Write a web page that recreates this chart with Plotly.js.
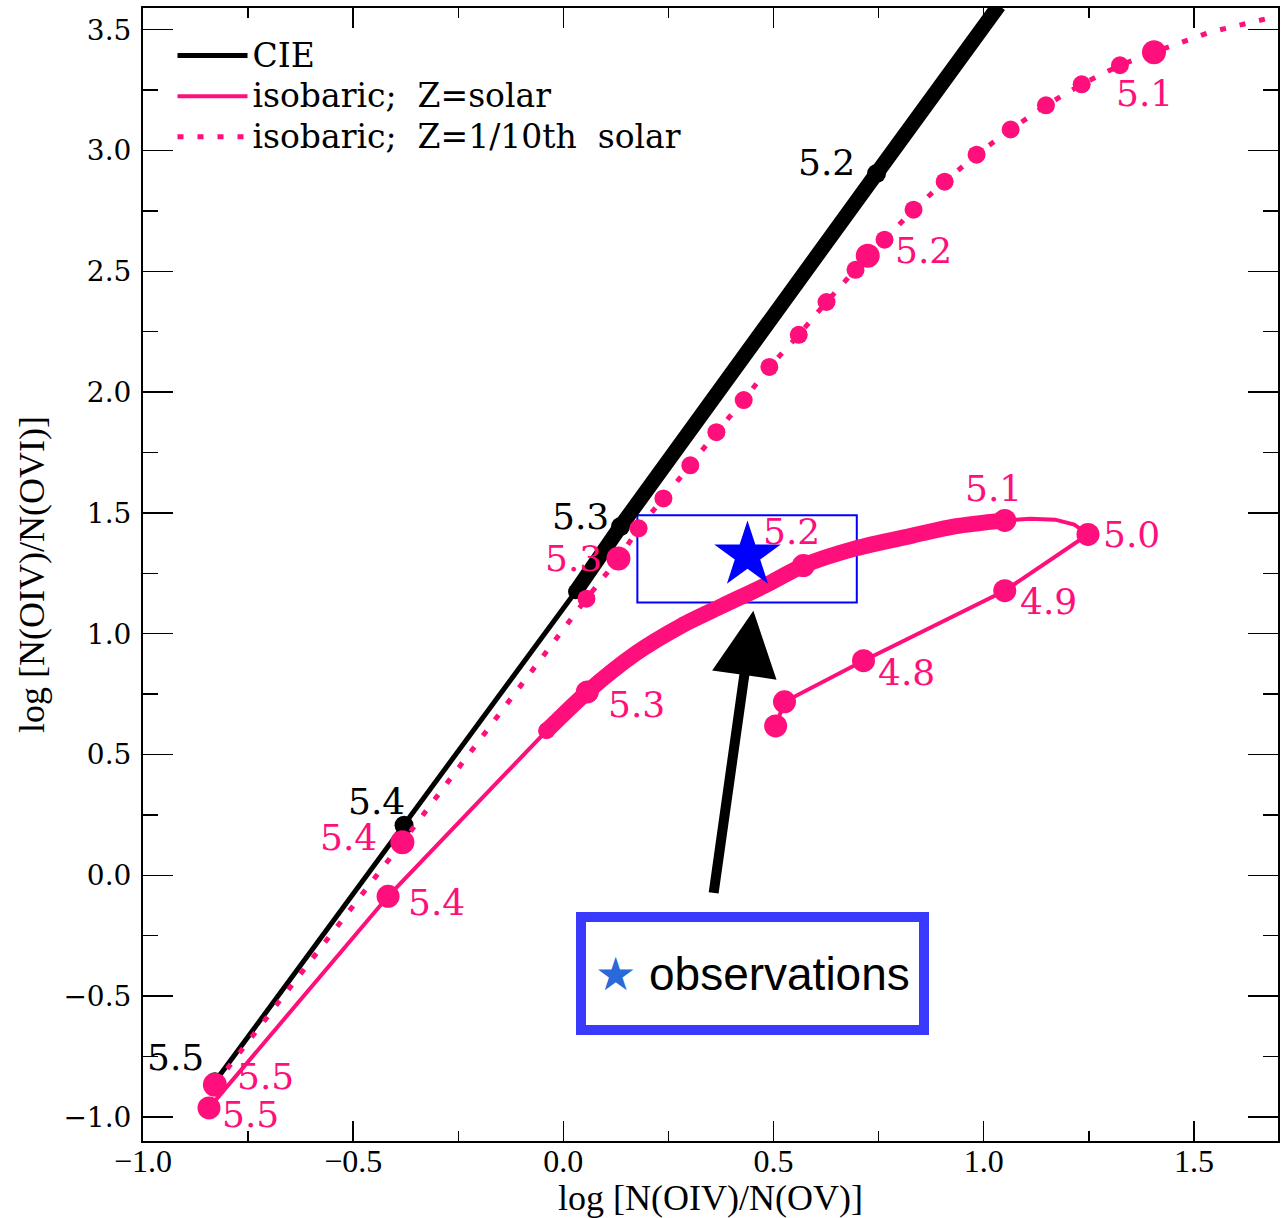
<!DOCTYPE html>
<html><head><meta charset="utf-8">
<script src="https://cdn.plot.ly/plotly-3.0.1.min.js"></script>
<style>html,body{margin:0;padding:0;background:#fff}#plot{width:1286px;height:1218px}</style>
</head><body><div id="plot"></div>
<script>
// ---------- data ----------
// CIE curve
const cieThinX = [-0.829, -0.379, 0.029];
const cieThinY = [-0.855, 0.207, 1.174];
const cieThickX = [0.029, 0.136, 0.745, 1.036];
const cieThickY = [1.174, 1.444, 2.905, 3.60];
const cieMarkX = [-0.829, -0.379, 0.136, 0.745];
const cieMarkY = [-0.855, 0.207, 1.444, 2.905];
const cieLabels = ['5.5', '5.4', '5.3', '5.2'];

// isobaric, Z = 1/10th solar (dotted)
const lowX = [-0.829, -0.383, 0.055, 0.131, 0.179, 0.238, 0.302, 0.364, 0.429, 0.490, 0.560, 0.626, 0.695, 0.724, 0.764, 0.833, 0.907, 0.983, 1.064, 1.148, 1.233, 1.324, 1.405, 1.538, 1.698];
const lowY = [-0.867, 0.137, 1.145, 1.311, 1.436, 1.560, 1.697, 1.834, 1.967, 2.104, 2.237, 2.373, 2.506, 2.564, 2.631, 2.755, 2.871, 2.983, 3.087, 3.187, 3.274, 3.353, 3.407, 3.490, 3.556];
const lowMarkX = [-0.829, -0.383, 0.055, 0.131, 0.179, 0.238, 0.302, 0.364, 0.429, 0.490, 0.560, 0.626, 0.695, 0.724, 0.764, 0.833, 0.907, 0.983, 1.064, 1.148, 1.233, 1.324, 1.405];
const lowMarkY = [-0.867, 0.137, 1.145, 1.311, 1.436, 1.560, 1.697, 1.834, 1.967, 2.104, 2.237, 2.373, 2.506, 2.564, 2.631, 2.755, 2.871, 2.983, 3.087, 3.187, 3.274, 3.353, 3.407];
const lowLabelX = [-0.829, -0.383, 0.131, 0.724, 1.405];
const lowLabelY = [-0.867, 0.137, 1.311, 2.564, 3.407];
const lowLabels = ['5.5', '5.4', '5.3', '5.2', '5.1'];

// isobaric, Z = solar (solid)
const solThinAX = [-0.843, -0.417, -0.040];
const solThinAY = [-0.963, -0.087, 0.598];
const solThickX = [-0.040, 0.057, 0.171, 0.281, 0.379, 0.479, 0.571, 0.695, 0.833, 0.931, 1.050];
const solThickY = [0.598, 0.759, 0.917, 1.033, 1.116, 1.199, 1.282, 1.353, 1.407, 1.444, 1.469];
const solThinBX = [1.050, 1.110, 1.170, 1.215, 1.248, 1.050, 0.714, 0.526, 0.505];
const solThinBY = [1.469, 1.476, 1.472, 1.452, 1.411, 1.178, 0.888, 0.718, 0.618];
const solMarkX = [-0.843, -0.417, 0.057, 0.571, 1.050, 1.248, 1.050, 0.714, 0.526, 0.505];
const solMarkY = [-0.963, -0.087, 0.759, 1.282, 1.469, 1.411, 1.178, 0.888, 0.718, 0.618];
const solLabels = ['5.5', '5.4', '5.3', '5.2', '5.1', '5.0', '4.9', '4.8', '', ''];

// observation
const obsBoxX = [0.176, 0.698];
const obsBoxY = [1.129, 1.490];
const obsStarX = [0.438];
const obsStarY = [1.324];
const arrowTip = [0.452, 1.095];
const arrowTail = [0.357, -0.079];

// ---------- styles ----------
const PINK = '#ff0f7b';
const cieShift = [[-39, 24], [-28, 24], [-40, 10], [-50, 11]];
const lowShift = [[51, 8], [-54, 5], [-45, 0], [56, 5], [-9, -41]];
const solShift = [[41, -7], [48, -6], [49, -13], [-12, 34], [-11, 32], [44, 0], [44, -11], [43, -12], [0, 0], [0, 0]];
const lowMarkSize = lowMarkX.map((_, i) => (i < 2 || i === 3 || i === 13 || i === 22) ? 24 : 18);
const noLine = {width: 0};
const big = (s) => '<span style="font-size:33px">' + s + '</span>';

const traces = [
  {x: cieThinX, y: cieThinY, mode: 'lines', name: big('CIE'), legendrank: 1,
   line: {color: 'black', width: 5}, hoverinfo: 'skip'},
  {x: cieThickX, y: cieThickY, mode: 'lines', showlegend: false,
   line: {color: 'black', width: 15}, hoverinfo: 'skip'},
  {x: cieMarkX.concat([cieThickX[0]]), y: cieMarkY.concat([cieThickY[0]]), mode: 'markers', showlegend: false,
   marker: {color: 'black', size: [19, 19, 19, 19, 15], opacity: 1, line: noLine}, hoverinfo: 'skip'},
  {x: lowX, y: lowY, mode: 'lines', name: big('isobaric;  Z=1/10th  solar'), legendrank: 3,
   line: {color: PINK, width: 5, dash: '6px,14px'}, hoverinfo: 'skip'},
  {x: lowMarkX, y: lowMarkY, mode: 'markers', showlegend: false,
   marker: {color: PINK, size: lowMarkSize, opacity: 1, line: noLine}, hoverinfo: 'skip'},
  {x: solThinAX, y: solThinAY, mode: 'lines', name: big('isobaric;  Z=solar'), legendrank: 2,
   line: {color: PINK, width: 4}, hoverinfo: 'skip'},
  {x: solThinBX, y: solThinBY, mode: 'lines', showlegend: false,
   line: {color: PINK, width: 4}, hoverinfo: 'skip'},
  {x: solThickX, y: solThickY, mode: 'lines', showlegend: false,
   line: {color: PINK, width: 16, shape: 'spline', smoothing: 0.8}, hoverinfo: 'skip'},
  {x: solMarkX.concat([solThickX[0]]), y: solMarkY.concat([solThickY[0]]), mode: 'markers', showlegend: false,
   marker: {color: PINK, size: [23, 23, 23, 23, 23, 23, 23, 23, 23, 23, 17], opacity: 1, line: noLine}, hoverinfo: 'skip'},
  {x: obsStarX, y: obsStarY, mode: 'markers', showlegend: false,
   marker: {symbol: 'star', color: '#0000ff', size: 50, opacity: 1, line: noLine}, hoverinfo: 'skip'}
];

const labelFont = (c) => ({family: 'DejaVu Serif', size: 36, color: c});
const annotations = [];
cieLabels.forEach((t, i) => annotations.push({x: cieMarkX[i], y: cieMarkY[i], text: t, showarrow: false,
  xshift: cieShift[i][0], yshift: cieShift[i][1], font: labelFont('black')}));
lowLabels.forEach((t, i) => annotations.push({x: lowLabelX[i], y: lowLabelY[i], text: t, showarrow: false,
  xshift: lowShift[i][0], yshift: lowShift[i][1], font: labelFont(PINK)}));
solLabels.forEach((t, i) => { if (t) annotations.push({x: solMarkX[i], y: solMarkY[i], text: t, showarrow: false,
  xshift: solShift[i][0], yshift: solShift[i][1], font: labelFont(PINK)}); });

annotations.push({x: arrowTip[0], y: arrowTip[1], ax: arrowTail[0], ay: arrowTail[1], axref: 'x', ayref: 'y',
  xref: 'x', yref: 'y', text: '', showarrow: true, arrowhead: 2, arrowsize: 1.3, arrowwidth: 10,
  arrowcolor: 'black', standoff: 0});

annotations.push({x: 0.449, y: -0.405, xref: 'x', yref: 'y', showarrow: false,
  text: '<span style="color:#2a6ad8;font-size:46px">★</span> observations',
  font: {family: 'Liberation Sans, Arial, sans-serif', size: 46, color: 'black'},
  bordercolor: '#3a3aff', borderwidth: 10, borderpad: 0, bgcolor: 'white', width: 333, height: 103});

const axisCommon = {
  showline: true, linecolor: 'black', linewidth: 2, mirror: 'allticks',
  showgrid: false, zeroline: false, ticks: 'inside', tickcolor: 'black', tickwidth: 1.5,
  dtick: 0.5, tick0: 0, tickformat: '.1f', automargin: false
};

const layout = {
  width: 1286, height: 1218,
  margin: {l: 143, r: 8, t: 8, b: 77},
  paper_bgcolor: 'white', plot_bgcolor: 'white',
  showlegend: true,
  legend: {x: 0.026, y: 0.9805, xanchor: 'left', yanchor: 'top', bgcolor: 'rgba(0,0,0,0)',
    font: {family: 'DejaVu Serif', size: 29, color: 'black'}, itemwidth: 70, tracegroupgap: 0},
  xaxis: Object.assign({}, axisCommon, {
    range: [-1.0, 1.7], ticklen: 20, ticklabelstandoff: -9,
    minor: {dtick: 0.25, ticks: 'inside', ticklen: 10, tickwidth: 1.5, tickcolor: 'black'},
    tickfont: {family: 'Liberation Serif', size: 32, color: 'black'},
    title: {text: 'log [N(OIV)/N(OV)]', font: {family: 'Liberation Serif', size: 36, color: 'black'}, standoff: 6}
  }),
  yaxis: Object.assign({}, axisCommon, {
    range: [-1.1, 3.59], ticklen: 30, ticklabelstandoff: 4,
    minor: {dtick: 0.25, ticks: 'inside', ticklen: 15, tickwidth: 1.5, tickcolor: 'black'},
    tickfont: {family: 'DejaVu Serif', size: 28, color: 'black'},
    title: {text: 'log [N(OIV)/N(OVI)]', font: {family: 'Liberation Serif', size: 36, color: 'black'}, standoff: 8}
  }),
  shapes: [{type: 'rect', xref: 'x', yref: 'y', x0: obsBoxX[0], x1: obsBoxX[1], y0: obsBoxY[0], y1: obsBoxY[1],
    line: {color: '#0000ff', width: 2}, layer: 'below'}],
  annotations: annotations
};

Plotly.newPlot('plot', traces, layout, {displayModeBar: false, staticPlot: true});
</script></body></html>
